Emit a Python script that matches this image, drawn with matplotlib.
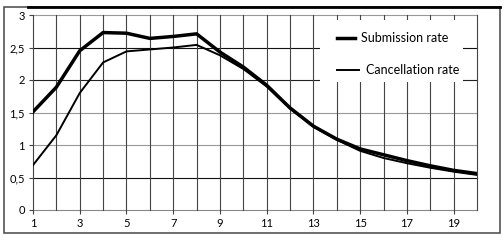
import matplotlib
matplotlib.use("Agg")
import matplotlib.pyplot as plt
from matplotlib.patches import Rectangle
from matplotlib.lines import Line2D

x = list(range(1, 21))
submission = [1.51, 1.89, 2.45, 2.73, 2.72, 2.64, 2.67, 2.71, 2.43, 2.2,
              1.92, 1.57, 1.29, 1.09, 0.94, 0.85, 0.76, 0.68, 0.61, 0.56]
cancellation = [0.69, 1.15, 1.8, 2.27, 2.44, 2.47, 2.5, 2.54, 2.38, 2.17,
                1.9, 1.56, 1.28, 1.08, 0.91, 0.8, 0.72, 0.65, 0.59, 0.54]
xticks = [1, 3, 5, 7, 9, 11, 13, 15, 17, 19]
yticks = [0, 0.5, 1, 1.5, 2, 2.5, 3]
ytick_labels = ["0", "0,5", "1", "1,5", "2", "2,5", "3"]

plt.rcParams['font.family'] = ['Lato', 'DejaVu Sans']

fig = plt.figure(figsize=(5.04, 2.48), dpi=100)
W, H = 504, 248
ax = fig.add_axes([33 / W, 1 - 210 / H, (477 - 33) / W, (210 - 15) / H])
ax.set_xlim(1, 20)
ax.set_ylim(0, 3)

# grid
hcolors = {0: '#888888', 0.5: '#111111', 1: '#999999', 1.5: '#999999',
           2: '#222222', 2.5: '#111111', 3: '#999999'}
for yv in yticks:
    ax.axhline(yv, color=hcolors[yv], lw=0.8, zorder=1, clip_on=False)
for xv in x:
    ax.axvline(xv, color='#444444', lw=0.8, zorder=1, clip_on=False)

for s in ax.spines.values():
    s.set_visible(False)
ax.set_xticks(xticks)
ax.set_yticks(yticks)
ax.set_yticklabels(ytick_labels)
ax.tick_params(axis='both', length=3, width=0.8, color='#444444',
               labelsize=8, pad=3)

ax.plot(x, cancellation, color='black', lw=1.4, zorder=3, solid_joinstyle='round')
ax.plot(x, submission, color='black', lw=2.5, zorder=4, solid_joinstyle='round')

# legend box (white, covering grid)
fig.patches.append(Rectangle((320 / W, 1 - 82 / H), (463 - 320) / W, (82 - 20) / H,
                             transform=fig.transFigure, facecolor='white',
                             edgecolor='none', zorder=5))
fig.lines.append(Line2D([337 / W, 355 / W], [1 - 38 / H, 1 - 38 / H],
                        transform=fig.transFigure, color='black', lw=2.5, zorder=6))
fig.text(361 / W, 1 - 38 / H, "Submission rate", fontsize=9, va='center',
         ha='left', zorder=6)
fig.lines.append(Line2D([337 / W, 359 / W], [1 - 70 / H, 1 - 70 / H],
                        transform=fig.transFigure, color='black', lw=1.4, zorder=6))
fig.text(366 / W, 1 - 70 / H, "Cancellation rate", fontsize=9, va='center',
         ha='left', zorder=6)

# figure border
fig.patches.append(Rectangle((4 / W, 1 - 233 / H), (500 - 4) / W, (233 - 7) / H,
                             transform=fig.transFigure, facecolor='none',
                             edgecolor='#555555', lw=1.2, zorder=0))
fig.lines.append(Line2D([28 / W, 500 / W], [1 - 7 / H, 1 - 7 / H],
                        transform=fig.transFigure, color='black', lw=2.0, zorder=7))

fig.savefig("out.png", dpi=100)
